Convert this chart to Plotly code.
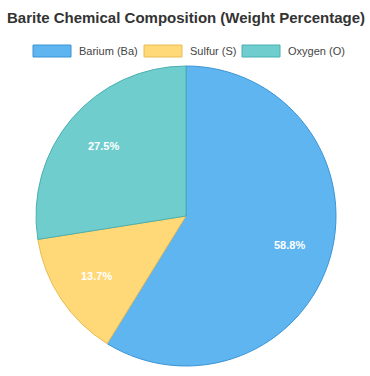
import math
import plotly.graph_objects as go

labels = ["Barium (Ba)", "Sulfur (S)", "Oxygen (O)"]
values = [58.8, 13.7, 27.5]
fill_colors = ["#5EB5EF", "#FFD878", "#6FCDCD"]
line_colors = ["#3A94D6", "#E8BC55", "#4BB0B0"]

W, H = 370, 376
cx, cy, R = 186, 216, 150
FONT = "Liberation Sans, Arial, sans-serif"

fig = go.Figure()
fig.add_trace(go.Pie(
    labels=labels, values=values, sort=False, direction="clockwise", rotation=0,
    marker=dict(colors=fill_colors, line=dict(color=line_colors, width=1)),
    textinfo="none",
    domain=dict(x=[(cx - R) / W, (cx + R) / W], y=[(H - cy - R) / H, (H - cy + R) / H]),
    showlegend=False, hoverinfo="label+percent",
))

shapes = []
annotations = [dict(
    text="<b>Barite Chemical Composition (Weight Percentage)</b>",
    x=186 / W, y=1 - 18 / H, xref="paper", yref="paper", showarrow=False,
    xanchor="center", yanchor="middle",
    font=dict(size=15, color="#333333", family=FONT),
)]

# percentage labels placed at the middle angle of each slice
total = sum(values)
start = 0.0
for v in values:
    mid = (start + v / 2) / total * 2 * math.pi
    start += v
    px = cx + 0.72 * R * math.sin(mid)
    py = cy - 0.72 * R * math.cos(mid)
    annotations.append(dict(
        text=f"<b>{v / total * 100:.1f}%</b>", x=px / W, y=1 - py / H,
        xref="paper", yref="paper", showarrow=False, xanchor="center", yanchor="middle",
        font=dict(size=11, color="white", family=FONT),
    ))

box_x = [33, 144, 242]
for i, lab in enumerate(labels):
    x0 = box_x[i]
    shapes.append(dict(type="rect", xref="paper", yref="paper",
                       x0=x0 / W, x1=(x0 + 38) / W, y0=1 - 57 / H, y1=1 - 45 / H,
                       fillcolor=fill_colors[i], line=dict(color=line_colors[i], width=1)))
    annotations.append(dict(text=lab, x=(x0 + 44) / W, y=1 - 51 / H, xref="paper", yref="paper",
                            showarrow=False, xanchor="left", yanchor="middle",
                            font=dict(size=11, color="#444444", family=FONT)))

fig.update_layout(
    width=W, height=H, margin=dict(l=0, r=0, t=0, b=0),
    paper_bgcolor="white", plot_bgcolor="white",
    shapes=shapes, annotations=annotations,
)
fig.write_html("out.html")
